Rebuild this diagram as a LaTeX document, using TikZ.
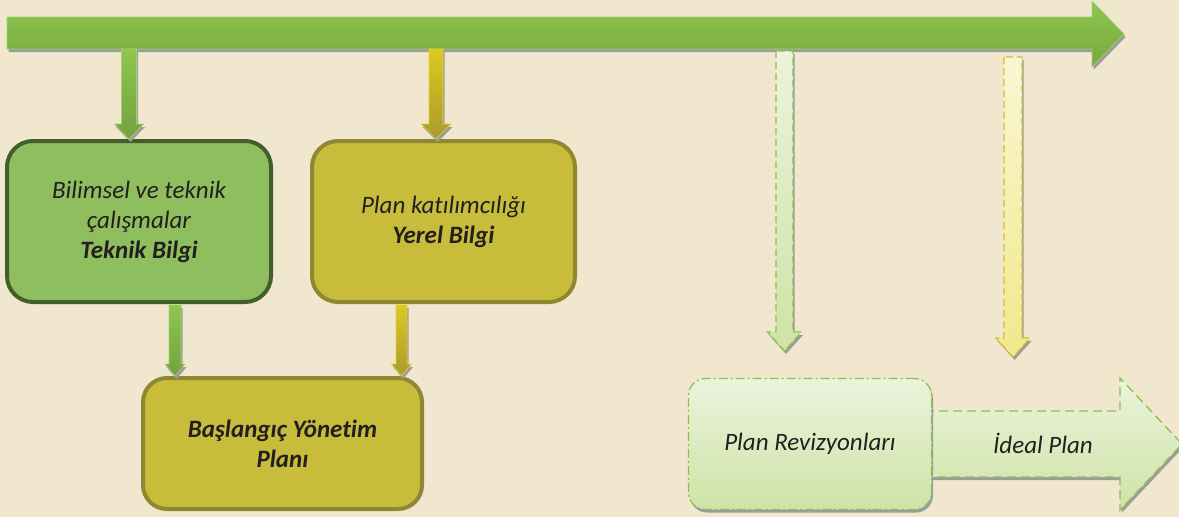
\documentclass[tikz,border=0pt]{standalone}
\usepackage{fontspec}
\setmainfont{Carlito}[Ligatures=NoCommon]
\usetikzlibrary{calc,shadows}
\definecolor{bg}{HTML}{F1E7CE}
\definecolor{mainTop}{HTML}{8DC64F}
\definecolor{mainBot}{HTML}{78A93F}
\definecolor{gTop}{HTML}{8EC64E}
\definecolor{gBot}{HTML}{73A23E}
\definecolor{yTop}{HTML}{DDC91E}
\definecolor{yBot}{HTML}{A99B2D}
\definecolor{greenFill}{HTML}{8FBE5F}
\definecolor{greenLine}{HTML}{415E2B}
\definecolor{oliveFill}{HTML}{C8BC3B}
\definecolor{oliveLine}{HTML}{8F8731}
\definecolor{lgTop}{HTML}{EBF3DC}
\definecolor{lgBot}{HTML}{CFE3A6}
\definecolor{lgLine}{HTML}{8DBF50}
\definecolor{lyTop}{HTML}{FAF6D2}
\definecolor{lyBot}{HTML}{F1E98A}
\definecolor{lyLine}{HTML}{D2BE3C}
\definecolor{txt}{HTML}{231F20}
\definecolor{shd}{HTML}{9C9C9C}
\newcommand\blockdown[6]{%
  \path[#1] let \p1=(#2), \p2=(#3) in
    (\x1-#4,\y1) -- (\x1-#4,\y2+#6) -- (\x1-#5,\y2+#6) -- (\x1,\y2)
    -- (\x1+#5,\y2+#6) -- (\x1+#4,\y2+#6) -- (\x1+#4,\y1) -- cycle;}
\tikzset{
  shd/.style={drop shadow={shadow xshift=1.5pt,shadow yshift=-3pt,fill=shd,opacity=1}},
  txtstyle/.style={text=txt,font=\fontsize{25}{30}\selectfont\itshape,align=center},
  bigbox/.style={rounded corners=26pt,line width=4pt,txtstyle},
  grnarrow/.style={top color=gTop,bottom color=gBot,draw=gTop!80!white,line width=0.6pt,shd},
  ylwarrow/.style={top color=yTop,bottom color=yBot,draw=yTop!85!white,line width=0.6pt,shd},
  lgarrow/.style={top color=lgTop,bottom color=lgBot,draw=lgLine,line width=1.3pt,dash pattern=on 7pt off 4pt,shd},
  lyarrow/.style={top color=lyTop,bottom color=lyBot,draw=lyLine,line width=1.3pt,dash pattern=on 7pt off 4pt,shd},
}
\begin{document}
\begin{tikzpicture}[x=1pt,y=-1pt]
\useasboundingbox[fill=bg] (0,0) rectangle (1179,517);
% main timeline arrow
\path[top color=mainTop,bottom color=mainBot,draw=mainTop!80!white,line width=0.6pt,shd]
  (7,17) -- (1092,17) -- (1092,1) -- (1124,34) -- (1092,67) -- (1092,49) -- (7,49) -- cycle;
% boxes
\node[bigbox,fill=greenFill,draw=greenLine,minimum width=264pt,minimum height=161pt] (b1) at (139,221.5)
  {Bilimsel ve teknik\\çalışmalar\\\textbf{Teknik Bilgi}};
\node[bigbox,fill=oliveFill,draw=oliveLine,minimum width=263pt,minimum height=161pt] (b2) at (443.5,221.5)
  {Plan katılımcılığı\\\textbf{Yerel Bilgi}};
\node[bigbox,rounded corners=24pt,fill=oliveFill,draw=oliveLine,minimum width=279pt,minimum height=131pt] (b3) at (282.5,443.5)
  {\textbf{Başlangıç Yönetim}\\\textbf{Planı}};
% ideal plan arrow
\coordinate (ip1) at (925,411);
\path[top color=lgTop,bottom color=lgBot,draw=lgLine,line width=1.3pt,dash pattern=on 9pt off 5pt,shd]
  (ip1) -- (1120,411) -- (1120,378) -- (1182,444) -- (1120,510) -- (1120,477) -- (925,477) -- cycle;
\node[txtstyle] (ideal) at (1043,443) {İdeal Plan};
\node[txtstyle,rounded corners=17pt,minimum width=243pt,minimum height=131pt,
  top color=lgTop,bottom color=lgBot,draw=lgLine,line width=1.3pt,
  dash pattern=on 9pt off 3pt on 2pt off 3pt,shd] (b4) at (810,444) {Plan Revizyonları};
% down arrows
\coordinate (s1) at (129,49);
\coordinate (s2) at (436,49);
\coordinate (s3) at (784.5,51);
\coordinate (s4) at (1013,57);
\coordinate (t3) at (784.5,351);
\coordinate (t4) at (1013,357);
\blockdown{grnarrow}{s1}{b1.north -| s1}{7.5pt}{14.5pt}{15pt}
\blockdown{ylwarrow}{s2}{b2.north -| s2}{7pt}{15pt}{15pt}
\coordinate (u1) at (175,305);
\coordinate (u2) at (401.5,305);
\blockdown{grnarrow}{u1}{b3.north -| u1}{6pt}{10pt}{12pt}
\blockdown{ylwarrow}{u2}{b3.north -| u2}{5.5pt}{10pt}{12pt}
\blockdown{lgarrow}{s3}{t3}{8.5pt}{17pt}{19pt}
\blockdown{lyarrow}{s4}{t4}{9pt}{17pt}{19pt}
\end{tikzpicture}
\end{document}
